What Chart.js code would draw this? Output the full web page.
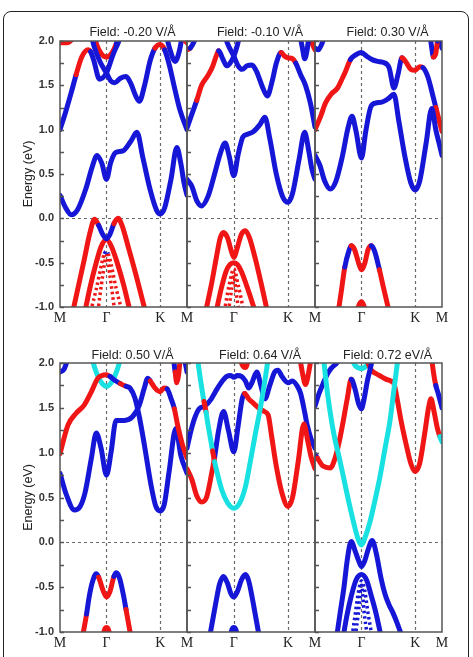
<!DOCTYPE html>
<html>
<head>
<meta charset="utf-8">
<script src="https://cdn.jsdelivr.net/npm/chart.js@4.4.0/dist/chart.umd.min.js"></script>
<style>
  body { margin: 0; background: #fff; width: 473px; height: 657px; overflow: hidden; position: relative;
         font-family: "Liberation Sans", Arial, sans-serif; }
  .box { position: absolute; left: 3px; top: 11px; width: 464px; height: 720px;
         border: 1.5px solid #222; border-radius: 8px; }
  canvas { position: absolute; }
  .ttl { position: absolute; font-size: 12.5px; line-height: 14px; color: #222; white-space: nowrap;
         transform: translateX(-50%); }
</style>
</head>
<body>
<div class="box"></div>
<script>
// k-path M - Γ - K - M (path length units), energies in eV
const xTickK = [0, 0.577, 1.244, 1.577];
const xTickLabels = ['M', 'Γ', 'K', 'M'];
const guideK = [0.577, 1.244];
const titles = ['Field: -0.20 V/Å', 'Field: -0.10 V/Å', 'Field: 0.30 V/Å',
                'Field: 0.50 V/Å', 'Field: 0.64 V/Å', 'Field: 0.72 eV/Å'];
// orbital character code per point: r / b / c (carried forward until changed)

// ---- Field -0.20
const p1_c1 = [[0,0.26,'b'],[0.07,0.12],[0.14,0.04],[0.22,0.1],[0.32,0.33],[0.40,0.58],[0.46,0.71],[0.52,0.62],[0.577,0.44],[0.63,0.63],[0.69,0.74],[0.78,0.76],[0.88,0.87],[0.955,0.97],[1.03,0.68],[1.12,0.32],[1.20,0.09],[1.244,0.05],[1.30,0.12],[1.38,0.45],[1.45,0.80],[1.50,0.62],[1.54,0.40],[1.577,0.26]];
const p1_c2 = [[0,1.0,'b'],[0.07,1.2],[0.14,1.42],[0.2,1.62,'r'],[0.27,1.82],[0.35,1.9],[0.38,1.88,'b'],[0.42,1.78],[0.49,1.57],[0.577,1.64],[0.66,1.85],[0.74,2.02],[0.8,2.2]];
const p1_c3 = [[0.36,2.2,'b'],[0.42,1.95],[0.50,1.76],[0.577,1.64],[0.63,1.55],[0.68,1.53],[0.75,1.58],[0.82,1.60],[0.88,1.52],[0.94,1.38],[0.985,1.32],[1.05,1.5],[1.12,1.78],[1.18,1.92,'r'],[1.244,1.96],[1.3,1.9,'b'],[1.36,1.72],[1.42,1.48],[1.49,1.22],[1.577,1.0]];
const p1_c4 = [[0,1.98,'r'],[0.08,1.98],[0.15,2.02],[0.2,2.12]];
const p1_c5 = [[1.5,2.15,'r'],[1.54,2.02],[1.577,1.98]];
const p1_c6 = [[1.3,2.15,'b'],[1.36,1.92],[1.43,1.77],[1.48,1.88],[1.53,2.12]];
const p1_c7 = [[0.40,2.12,'b'],[0.45,1.97,'r'],[0.51,1.86],[0.577,1.82],[0.64,1.86],[0.70,1.97,'b'],[0.75,2.12]];
const p1_v1 = [[0.16,-1.05,'r'],[0.22,-0.8],[0.3,-0.47],[0.37,-0.17],[0.43,-0.01],[0.48,-0.08,'b'],[0.53,-0.18],[0.577,-0.23],[0.62,-0.18],[0.67,-0.06,'r'],[0.72,0.0],[0.77,-0.08],[0.85,-0.33],[0.95,-0.66],[1.06,-1.05]];
const p1_v2 = [[0.31,-1.05,'r'],[0.38,-0.75],[0.45,-0.5],[0.51,-0.32],[0.577,-0.24],[0.64,-0.32],[0.71,-0.5],[0.79,-0.75],[0.87,-1.05]];
const p1_v3 = [[0.38,-1.05,'r'],[0.45,-0.8],[0.52,-0.5],[0.55,-0.4,'b'],[0.577,-0.37],[0.6,-0.4,'r'],[0.63,-0.5],[0.7,-0.8],[0.77,-1.05]];
const p1_v4 = [[0.47,-1.05,'r'],[0.53,-0.65],[0.577,-0.42],[0.62,-0.65],[0.68,-1.05]];

// ---- Field -0.10
const p2_c1 = [[0,0.44,'b'],[0.06,0.36],[0.12,0.2],[0.18,0.14],[0.26,0.25],[0.34,0.5],[0.41,0.73],[0.47,0.85],[0.52,0.7],[0.577,0.48],[0.63,0.72],[0.69,0.92],[0.75,0.95],[0.82,0.98],[0.9,1.06],[0.96,1.14],[1.02,0.9],[1.1,0.5],[1.18,0.24],[1.244,0.18],[1.3,0.28],[1.38,0.66],[1.45,0.97],[1.5,0.76],[1.54,0.55],[1.577,0.44]];
const p2_c2 = [[0,1.02,'b'],[0.05,1.15],[0.12,1.33,'r'],[0.18,1.5],[0.25,1.6],[0.31,1.7],[0.36,1.83],[0.39,1.89,'b'],[0.44,1.8],[0.49,1.72],[0.53,1.75],[0.577,1.83],[0.62,1.95],[0.66,2.12]];
const p2_c3 = [[0.45,2.12,'b'],[0.5,1.97],[0.577,1.83],[0.63,1.72],[0.68,1.68],[0.74,1.72],[0.8,1.73],[0.86,1.65],[0.93,1.48],[0.99,1.38],[1.05,1.55],[1.1,1.75],[1.16,1.87,'r'],[1.2,1.83],[1.244,1.81],[1.3,1.8],[1.34,1.75,'b'],[1.4,1.62],[1.46,1.5],[1.52,1.3],[1.577,1.03]];
const p2_c4 = [[0,1.9,'r'],[0.04,1.92,'b'],[0.09,2.0],[0.13,2.12]];
const p2_c5 = [[1.38,2.12,'b'],[1.42,1.93],[1.45,1.8],[1.48,1.9],[1.51,2.12]];
const p2_c6 = [[1.5,2.15,'r'],[1.54,1.98],[1.577,1.9]];
const p2_v1 = [[0.23,-1.05,'r'],[0.3,-0.75],[0.36,-0.45],[0.41,-0.22],[0.45,-0.16],[0.5,-0.22],[0.54,-0.35],[0.577,-0.44],[0.62,-0.33],[0.67,-0.18],[0.72,-0.14],[0.77,-0.22],[0.84,-0.45],[0.91,-0.72],[0.99,-1.05]];
const p2_v2 = [[0.36,-1.05,'r'],[0.42,-0.8],[0.48,-0.6],[0.53,-0.52],[0.577,-0.5],[0.62,-0.52],[0.67,-0.6],[0.75,-0.8],[0.84,-1.05]];
const p2_v3 = [[0.46,-1.05,'r'],[0.52,-0.75],[0.577,-0.57],[0.63,-0.75],[0.7,-1.05]];
const p2_v4 = [[0.51,-1.05,'r'],[0.55,-0.8],[0.577,-0.62],[0.6,-0.8],[0.64,-1.05]];

// ---- Field 0.30
const p3_c1 = [[0,0.71,'b'],[0.06,0.6],[0.12,0.42],[0.19,0.33],[0.26,0.42],[0.34,0.7],[0.41,1.02],[0.46,1.15],[0.51,0.98],[0.577,0.68],[0.63,0.98],[0.69,1.25],[0.75,1.3],[0.83,1.31],[0.91,1.35],[0.98,1.4],[1.04,1.1],[1.12,0.68],[1.19,0.4],[1.244,0.32],[1.3,0.42],[1.38,0.85],[1.45,1.24],[1.5,1.0],[1.54,0.85],[1.577,0.71]];
const p3_c2 = [[0,1.0,'r'],[0.07,1.15],[0.13,1.3],[0.2,1.4],[0.28,1.47],[0.34,1.58],[0.38,1.66],[0.44,1.79,'b'],[0.5,1.84],[0.577,1.87],[0.64,1.83],[0.71,1.79],[0.78,1.77],[0.84,1.76],[0.92,1.7],[0.98,1.47],[1.03,1.62],[1.08,1.81,'r'],[1.13,1.76],[1.19,1.68],[1.244,1.67],[1.3,1.71],[1.34,1.7,'b'],[1.4,1.6],[1.47,1.36],[1.5,1.25,'r'],[1.577,0.98]];
const p3_c3 = [[0,1.92,'b'],[0.04,1.9],[0.09,1.98],[0.14,2.12]];
const p3_c4 = [[1.42,2.12,'b'],[1.45,1.92],[1.47,1.82,'r'],[1.5,1.86],[1.52,2.0,'b'],[1.54,2.12]];
const p3_c5 = [[1.54,2.1,'b'],[1.56,1.98],[1.577,1.92]];
const p3_v1 = [[0.29,-1.05,'r'],[0.33,-0.8],[0.37,-0.55,'b'],[0.42,-0.37],[0.45,-0.31,'r'],[0.49,-0.35],[0.54,-0.5],[0.577,-0.58],[0.62,-0.5],[0.66,-0.35],[0.7,-0.31,'b'],[0.74,-0.37],[0.8,-0.58,'r'],[0.85,-0.78],[0.92,-1.05]];
const p3_v2 = [[0.52,-1.05,'r'],[0.55,-0.97],[0.577,-0.94],[0.6,-0.97],[0.63,-1.05]];

// ---- Field 0.50
const p4_c1 = [[0,0.77,'b'],[0.08,0.53],[0.18,0.36],[0.25,0.4],[0.31,0.55],[0.39,0.94],[0.45,1.22],[0.51,1.05],[0.577,0.75],[0.635,1.01],[0.696,1.36],[0.8,1.36],[0.9,1.40],[0.985,1.53],[1.047,1.72],[1.09,1.83],[1.12,1.8,'r'],[1.18,1.72],[1.244,1.68],[1.29,1.72],[1.33,1.71,'b'],[1.38,1.6],[1.42,1.49,'r'],[1.46,1.31],[1.52,1.09],[1.577,0.94]];
const p4_c2 = [[0,0.99,'r'],[0.1,1.31],[0.2,1.44],[0.3,1.53],[0.39,1.68],[0.47,1.83],[0.577,1.87],[0.62,1.85,'b'],[0.676,1.81],[0.75,1.77,'r'],[0.82,1.74,'b'],[0.87,1.72],[0.93,1.61],[0.985,1.40],[1.047,1.09],[1.13,0.64],[1.19,0.40],[1.244,0.35],[1.294,0.42],[1.355,0.79],[1.438,1.27],[1.5,0.97],[1.577,0.77]];
const p4_c3 = [[0.38,2.12,'c'],[0.43,1.95],[0.5,1.8],[0.577,1.74],[0.65,1.8],[0.72,1.95],[0.77,2.12]];
const p4_c4 = [[0,1.9,'b'],[0.05,1.93],[0.1,2.05],[0.13,2.12]];
const p4_c5 = [[1.4,2.12,'b'],[1.43,1.9,'r'],[1.45,1.78],[1.47,1.85],[1.5,2.12]];
const p4_c6 = [[1.53,2.12,'b'],[1.577,1.9]];
const p4_v1 = [[0.28,-1.05,'r'],[0.33,-0.8,'b'],[0.36,-0.62],[0.4,-0.45],[0.45,-0.35],[0.48,-0.39,'r'],[0.54,-0.55],[0.577,-0.61],[0.62,-0.55],[0.67,-0.38,'b'],[0.7,-0.34],[0.74,-0.4],[0.79,-0.6],[0.82,-0.75,'r'],[0.88,-1.05]];
const p4_v2 = [[0.53,-1.05,'r'],[0.555,-0.97],[0.577,-0.95],[0.6,-0.97],[0.625,-1.05]];

// ---- Field 0.64
const p5_c1 = [[0.12,2.12,'c'],[0.16,1.85],[0.2,1.62],[0.21,1.57,'r'],[0.235,1.45,'c'],[0.25,1.36],[0.3,1.1],[0.315,1.02,'r'],[0.34,0.9,'c'],[0.36,0.82],[0.43,0.58],[0.5,0.44],[0.577,0.38],[0.65,0.44],[0.72,0.62],[0.78,0.9],[0.84,1.2],[0.9,1.48],[0.95,1.75],[1.0,2.05],[1.01,2.12]];
const p5_c2 = [[0,0.82,'r'],[0.06,0.7],[0.12,0.52],[0.18,0.45],[0.24,0.5],[0.3,0.75],[0.34,0.95,'b'],[0.39,1.25],[0.45,1.46],[0.51,1.25],[0.577,1.01],[0.63,1.3],[0.68,1.6],[0.71,1.66,'r'],[0.76,1.6],[0.82,1.55],[0.88,1.5],[0.95,1.46],[1.0,1.42],[1.04,1.2],[1.1,0.85],[1.17,0.55],[1.244,0.4],[1.3,0.5],[1.37,0.9],[1.44,1.32],[1.49,1.12],[1.53,0.95],[1.577,0.82]];
const p5_c3 = [[0,1.05,'b'],[0.05,1.25],[0.1,1.4],[0.15,1.49],[0.22,1.52],[0.3,1.6],[0.35,1.68],[0.42,1.78],[0.49,1.85],[0.54,1.86],[0.577,1.84],[0.62,1.86],[0.67,1.85],[0.72,1.8],[0.76,1.72],[0.8,1.78],[0.86,1.9],[0.91,1.75],[0.96,1.6],[1.02,1.75],[1.08,1.9],[1.12,1.92],[1.17,1.85],[1.244,1.78],[1.3,1.8],[1.36,1.74],[1.4,1.66],[1.45,1.45],[1.48,1.31],[1.53,1.15],[1.577,1.05]];
const p5_c4 = [[1.38,2.12,'r'],[1.42,1.9],[1.46,1.76],[1.5,1.9],[1.54,2.12]];
const p5_c5 = [[0.64,2.12,'r'],[0.68,1.98],[0.72,1.95],[0.76,2.05],[0.78,2.12]];
const p5_v1 = [[0.28,-1.05,'b'],[0.32,-0.85],[0.36,-0.65],[0.4,-0.47],[0.45,-0.38],[0.5,-0.46],[0.54,-0.57],[0.577,-0.61],[0.62,-0.55],[0.67,-0.42],[0.72,-0.36],[0.76,-0.43],[0.8,-0.6],[0.84,-0.8],[0.89,-1.05]];
const p5_v2 = [[0.53,-1.05,'b'],[0.555,-0.97],[0.577,-0.95],[0.6,-0.97],[0.625,-1.05]];

// ---- Field 0.72
const p6_c1 = [[0.1,2.12,'c'],[0.13,1.85],[0.18,1.5],[0.24,1.18],[0.3,0.95],[0.36,0.7],[0.42,0.45],[0.48,0.22],[0.53,0.05],[0.577,-0.03],[0.62,0.05],[0.68,0.22],[0.74,0.45],[0.8,0.7],[0.87,1.05],[0.93,1.35],[0.98,1.7],[1.03,2.05],[1.04,2.12]];
const p6_c2 = [[0,0.98,'b'],[0.03,0.94,'r'],[0.1,0.85],[0.19,0.83],[0.25,0.94],[0.3,1.12],[0.34,1.3],[0.4,1.6],[0.45,1.82,'b'],[0.5,1.7],[0.54,1.55],[0.577,1.49],[0.61,1.6],[0.65,1.8],[0.69,1.95],[0.73,2.12]];
const p6_c3 = [[0.64,2.04,'r'],[0.7,1.92],[0.76,1.88],[0.82,1.85],[0.88,1.82],[0.94,1.8],[0.98,1.77],[1.02,1.6],[1.07,1.35],[1.13,1.1],[1.19,0.88],[1.244,0.79],[1.3,0.88],[1.36,1.2],[1.41,1.5],[1.44,1.6],[1.48,1.45],[1.52,1.27],[1.55,1.18,'c'],[1.577,1.12]];
const p6_c4 = [[0,1.52,'b'],[0.05,1.66],[0.1,1.77],[0.15,1.87],[0.2,1.94],[0.26,1.99],[0.32,2.05],[0.38,2.12]];
const p6_c5 = [[1.44,2.12,'r'],[1.47,1.9],[1.5,1.75,'b'],[1.53,1.66],[1.577,1.5]];
const p6_c6 = [[0.44,2.08,'c'],[0.5,1.97],[0.577,1.94],[0.64,1.97],[0.68,2.04]];
const p6_v1 = [[0.27,-1.05,'b'],[0.31,-0.8],[0.36,-0.5],[0.4,-0.2],[0.45,0.01],[0.5,-0.1],[0.54,-0.2],[0.577,-0.27],[0.62,-0.2],[0.66,-0.08],[0.71,0.02],[0.76,-0.12],[0.82,-0.4],[0.87,-0.58],[0.92,-0.7],[0.96,-0.77],[1.02,-0.9],[1.08,-1.05]];
const p6_v2 = [[0.35,-1.05,'b'],[0.4,-0.8],[0.45,-0.6],[0.51,-0.42],[0.577,-0.36],[0.64,-0.42],[0.7,-0.6],[0.76,-0.8],[0.82,-1.05]];
const p6_v3 = [[0.46,-1.05,'b'],[0.5,-0.8],[0.54,-0.55],[0.577,-0.43],[0.62,-0.55],[0.66,-0.8],[0.71,-1.05]];
const p6_v4 = [[0.5,-1.05,'b'],[0.54,-0.78],[0.577,-0.48],[0.61,-0.78],[0.65,-1.05]];

const panels = [
  [p1_c1, p1_c2, p1_c3, p1_c4, p1_c5, p1_c6, p1_c7, p1_v1, p1_v2, p1_v3, p1_v4],
  [p2_c1, p2_c2, p2_c3, p2_c4, p2_c5, p2_c6, p2_v1, p2_v2, p2_v3, p2_v4],
  [p3_c1, p3_c2, p3_c3, p3_c4, p3_c5, p3_v1, p3_v2],
  [p4_c1, p4_c2, p4_c3, p4_c4, p4_c5, p4_c6, p4_v1, p4_v2],
  [p5_c1, p5_c2, p5_c3, p5_c4, p5_c5, p5_v1, p5_v2],
  [p6_c1, p6_c2, p6_c3, p6_c4, p6_c5, p6_c6, p6_v1, p6_v2, p6_v3, p6_v4],
];

// ---- styling / layout
const bandColours = { r: 'rgb(240,22,22)', b: 'rgb(22,22,215)', c: 'rgb(25,225,225)' };
const dottedBands = [p1_v3, p1_v4, p2_v3, p2_v4, p6_v3, p6_v4];
const colLeft = [60, 187, 315], colWidth = [127, 128, 127];
const rowTop = [41, 363], rowHeight = [266, 269];
const titleY = [25, 348];

const guides = {
  id: 'guides',
  beforeDatasetsDraw(chart) {
    const { ctx, chartArea: a, scales: { x, y } } = chart;
    ctx.save();
    ctx.strokeStyle = '#6a6a6a';
    ctx.lineWidth = 1.2;
    ctx.setLineDash([3, 3]);
    ctx.beginPath();
    guideK.forEach(k => {
      const px = Math.round(x.getPixelForValue(k)) + 0.5;
      ctx.moveTo(px, a.top);
      ctx.lineTo(px, a.bottom);
    });
    const py = Math.round(y.getPixelForValue(0)) + 0.5;
    ctx.moveTo(a.left, py);
    ctx.lineTo(a.right, py);
    ctx.stroke();
    ctx.restore();
  },
  afterDatasetsDraw(chart) {
    const { ctx, chartArea: a, scales: { y } } = chart;
    ctx.save();
    ctx.strokeStyle = '#555';
    ctx.lineWidth = 1.5;
    ctx.beginPath();
    for (let v = -1; v <= 2.001; v += 0.25) {
      const py = Math.round(y.getPixelForValue(v)) + 0.5;
      ctx.moveTo(a.left, py);
      ctx.lineTo(a.left + 4, py);
    }
    ctx.stroke();
    ctx.strokeRect(a.left, a.top, a.width, a.height);
    ctx.restore();
  }
};

function prep(band) {
  let c = band[0][2];
  return band.map(p => {
    if (p[2]) c = p[2];
    return { x: p[0], y: p[1], c: c };
  });
}

function makePanel(i) {
  const col = i % 3, row = Math.floor(i / 3);
  const L = colLeft[col], W = colWidth[col], T = rowTop[row], H = rowHeight[row];
  const first = col === 0, last = col === 2;

  const cv = document.createElement('canvas');
  cv.width = W + 120;
  cv.height = H + 80;
  cv.style.left = (L - 60) + 'px';
  cv.style.top = (T - 40) + 'px';
  document.body.appendChild(cv);

  const t = document.createElement('div');
  t.className = 'ttl';
  t.textContent = titles[i];
  t.style.left = (L + W / 2 + 9) + 'px';
  t.style.top = titleY[row] + 'px';
  document.body.appendChild(t);

  const datasets = panels[i].map(band => {
    const pts = prep(band);
    const dotted = dottedBands.includes(band);
    return {
      data: pts,
      borderColor: bandColours[pts[0].c],
      segment: { borderColor: s => bandColours[pts[s.p0DataIndex].c] },
      borderWidth: dotted ? 3.5 : 5,
      borderDash: dotted ? [2.5, 3] : [],
      borderCapStyle: dotted ? 'butt' : 'round',
      borderJoinStyle: 'round',
      pointRadius: 0,
      cubicInterpolationMode: 'monotone',
      clip: 0,
    };
  });

  const nTicks = last ? 4 : 3;

  new Chart(cv.getContext('2d'), {
    type: 'line',
    data: { datasets },
    options: {
      responsive: false,
      animation: false,
      events: [],
      layout: { padding: { left: first ? 10 : 60, right: 60, top: 40, bottom: 15 } },
      plugins: { legend: { display: false }, tooltip: { enabled: false } },
      scales: {
        x: {
          type: 'linear',
          min: 0,
          max: 1.577,
          afterBuildTicks: s => { s.ticks = xTickK.slice(0, nTicks).map(v => ({ value: v })); },
          afterFit: s => { s.height = 25; },
          ticks: {
            autoSkip: false,
            maxRotation: 0,
            padding: 3,
            color: '#222',
            font: { family: '"Liberation Serif", "Times New Roman", serif', size: 14 },
            callback: (v, idx) => xTickLabels[idx],
          },
          grid: { display: false, drawTicks: false },
          border: { display: false },
        },
        y: {
          type: 'linear',
          display: first,
          min: -1,
          max: 2,
          afterFit: first ? (s => { s.width = 50; }) : undefined,
          ticks: {
            stepSize: 0.5,
            padding: 6,
            color: '#333',
            font: { family: '"Liberation Sans", Arial, sans-serif', size: 11, weight: 'bold' },
            callback: v => v.toFixed(1),
          },
          grid: { display: false, drawTicks: false },
          border: { display: false },
          title: {
            display: true,
            text: 'Energy (eV)',
            color: '#222',
            font: { family: '"Liberation Sans", Arial, sans-serif', size: 12.5 },
            padding: { top: 11, bottom: 0 },
          },
        },
      },
    },
    plugins: [guides],
  });
}

for (let i = 0; i < 6; i++) makePanel(i);
</script>
</body>
</html>
